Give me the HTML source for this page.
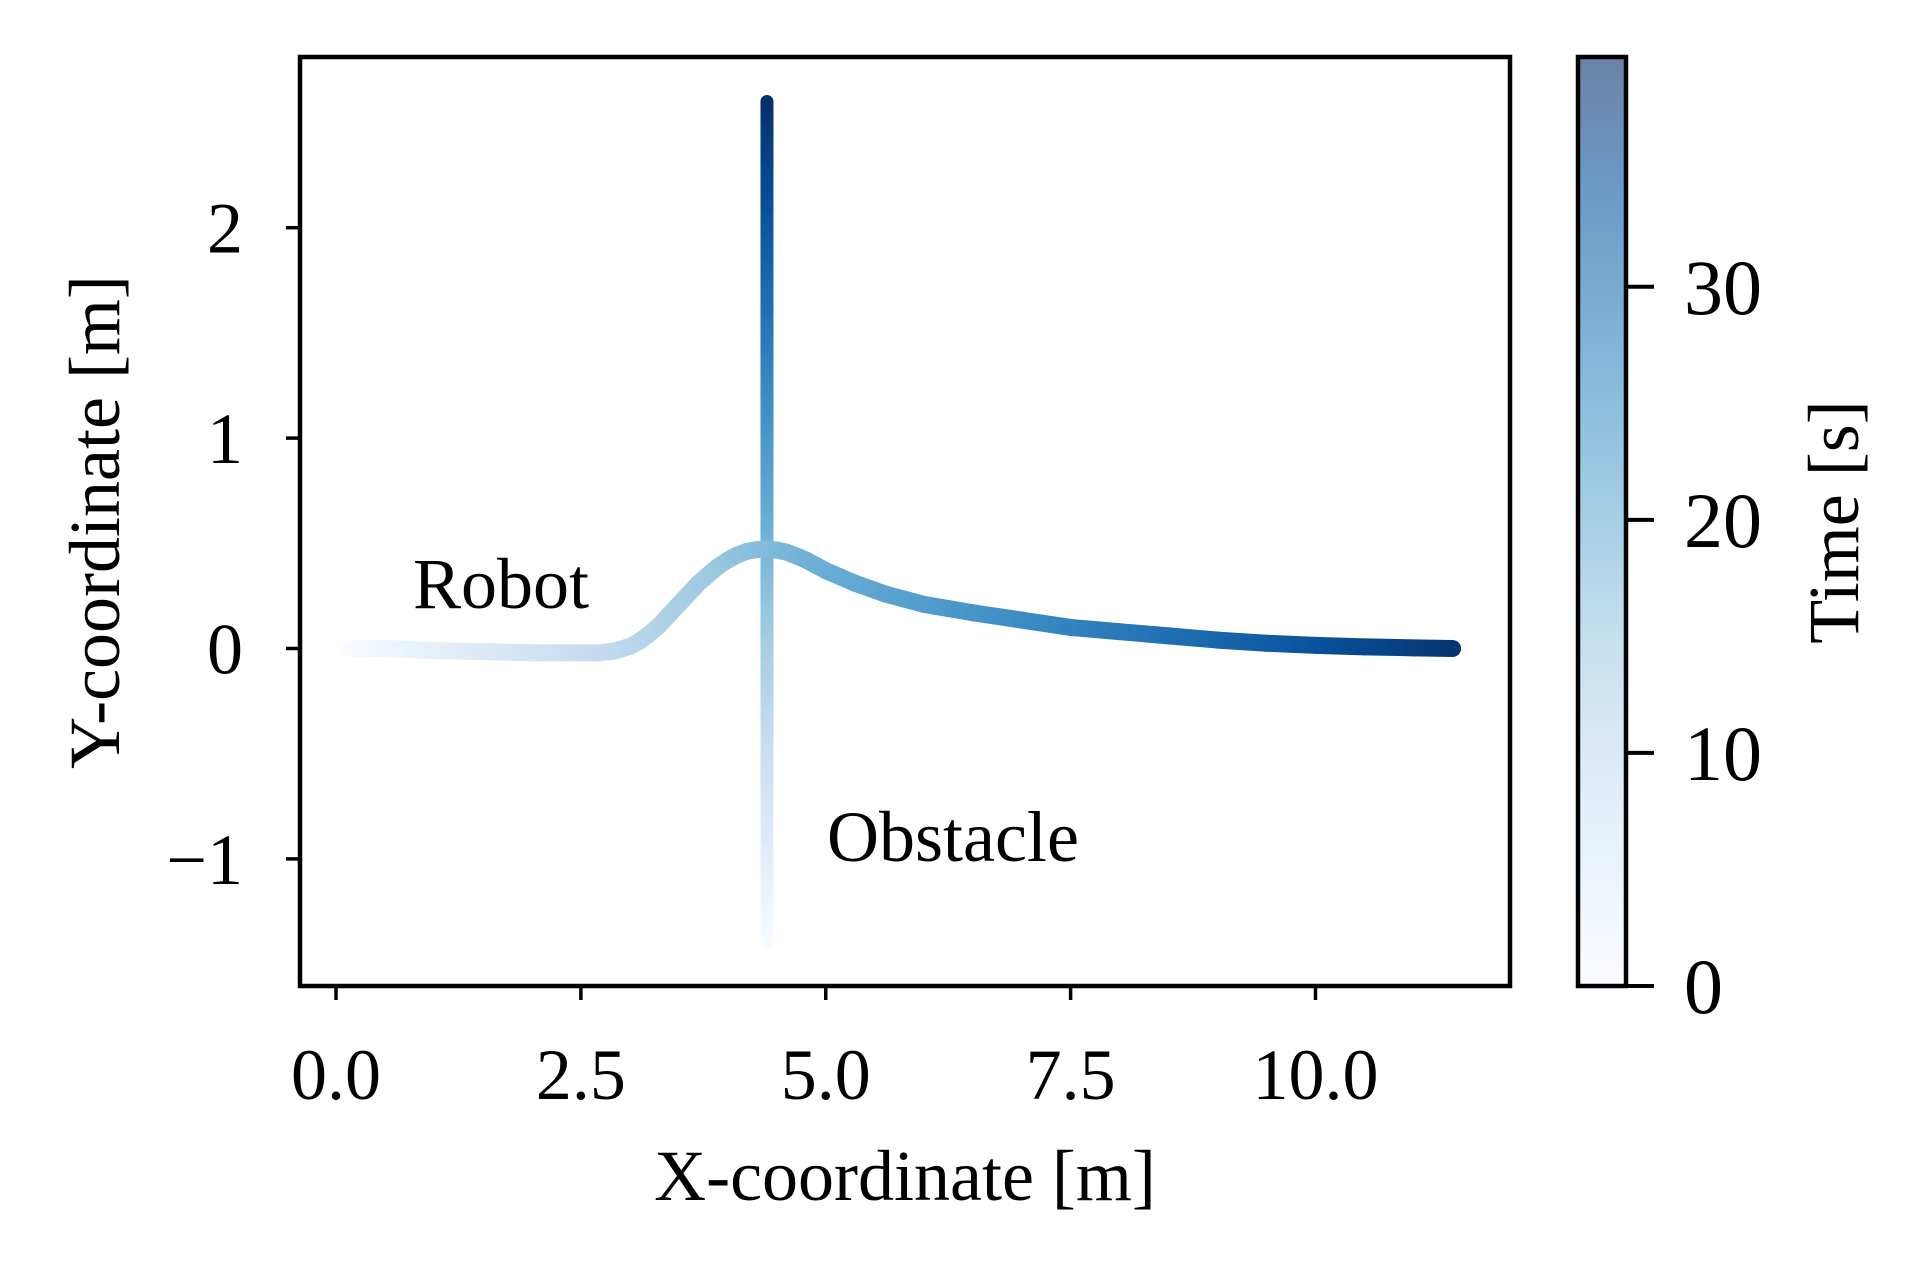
<!DOCTYPE html>
<html><head><meta charset="utf-8"><style>
html,body{margin:0;padding:0;background:#fff;}
svg{display:block;font-family:"Liberation Serif","DejaVu Serif",serif;}
</style></head><body>
<svg id="chart" width="1929" height="1276" viewBox="0 0 1929 1276">
<defs id="defs"></defs>
<g id="marks"></g>
<rect x="300" y="57" width="1210" height="929" fill="none" stroke="#000" stroke-width="4.5"/>
<g id="axes"></g>
<text x="413" y="608" font-size="72">Robot</text>
<text x="827" y="861" font-size="72">Obstacle</text>
<text x="905" y="1200" font-size="72" text-anchor="middle">X-coordinate [m]</text>
<text transform="translate(119,522) rotate(-90)" font-size="72" text-anchor="middle">Y-coordinate [m]</text>
<g id="cbar"></g>
<text transform="translate(1858,522) rotate(-90)" font-size="72" text-anchor="middle">Time [s]</text>
</svg>
<script>
const robotX=[0.15,0.5,1.0,1.5,2.0,2.5,2.7,2.85,3.0,3.1,3.2,3.3,3.4,3.5,3.6,3.7,3.8,3.9,4.0,4.1,4.2,4.3,4.4,4.5,4.6,4.7,4.8,4.9,5.0,5.15,5.3,5.45,5.6,5.8,6.0,6.25,6.5,7.0,7.5,8.0,8.5,9.0,9.5,10.0,10.5,11.0,11.4];
const robotY=[0,0,-0.01,-0.015,-0.02,-0.02,-0.02,-0.012,0.01,0.035,0.07,0.11,0.16,0.21,0.26,0.31,0.35,0.39,0.42,0.445,0.462,0.47,0.472,0.468,0.458,0.44,0.42,0.395,0.37,0.34,0.31,0.285,0.26,0.235,0.21,0.19,0.17,0.135,0.10,0.08,0.06,0.04,0.025,0.015,0.008,0.003,0];
const robotT=[0,1.5,3.5,5.5,7.5,9.5,10.3,10.9,11.5,11.9,12.3,12.75,13.2,13.65,14.1,14.55,15,15.45,15.9,16.35,16.8,17.25,17.7,18.15,18.6,19.0,19.4,19.75,20.1,20.55,21,21.45,21.9,22.45,23,23.7,24.4,25.8,27.3,28.7,30.2,31.7,33.2,34.7,36.3,37.9,39.3];
const obstacleX=[4.4,4.4,4.4,4.4,4.4,4.4,4.4,4.4,4.4];
const obstacleY=[-1.4,-0.9,-0.4,0.1,0.6,1.1,1.6,2.1,2.6];
const obstacleT=[0,5,10,15,20,25,30,35,39.9];
const xTicks=[0,2.5,5,7.5,10];
const xTickLabels=["0.0","2.5","5.0","7.5","10.0"];
const yTicks=[-1,0,1,2];
const yTickLabels=["\u22121","0","1","2"];
const cTicks=[0,10,20,30];
const cTickLabels=["0","10","20","30"];
const tMax=39.9;

const NS="http://www.w3.org/2000/svg";
const sx=v=>336+v*97.95;
const sy=v=>648.5-v*210.4;
const sc=v=>986-v*(930/tMax);
const stops=[[247,251,255],[222,235,247],[198,219,239],[158,202,225],[107,174,214],[66,146,198],[33,113,181],[8,81,156],[8,48,107]];
function blues(f){f=Math.max(0,Math.min(1,f));const p=f*8,i=Math.min(7,Math.floor(p)),r=p-i;
 const c=stops[i].map((a,k)=>Math.round(a+(stops[i+1][k]-a)*r));return `rgb(${c[0]},${c[1]},${c[2]})`;}
function el(tag,attrs,parent){const e=document.createElementNS(NS,tag);for(const k in attrs)e.setAttribute(k,attrs[k]);parent.appendChild(e);return e;}
const defs=document.getElementById('defs'),marks=document.getElementById('marks'),axes=document.getElementById('axes'),cbar=document.getElementById('cbar');
let gid=0;
function drawPath(X,Y,T,w,name){
 for(let i=0;i<X.length-1;i++){
  const x1=sx(X[i]),y1=sy(Y[i]),x2=sx(X[i+1]),y2=sy(Y[i+1]);
  const id='g'+(gid++);
  const g=el('linearGradient',{id:id,gradientUnits:'userSpaceOnUse',x1:x1,y1:y1,x2:x2,y2:y2},defs);
  el('stop',{offset:'0','stop-color':blues(T[i]/tMax)},g);
  el('stop',{offset:'1','stop-color':blues(T[i+1]/tMax)},g);
  const l=el('line',{x1:x1,y1:y1,x2:x2,y2:y2,stroke:`url(#${id})`,'stroke-width':w,'stroke-linecap':'round'},marks);
  
  
 }
}
drawPath(obstacleX,obstacleY,obstacleT,13,'obstacle-path');
drawPath(robotX,robotY,robotT,17,'robot-path');

xTicks.forEach((v,i)=>{
 const t=el('line',{x1:sx(v),x2:sx(v),y1:986,y2:1000,stroke:'#000','stroke-width':3.5},axes);
 
 
 const tx=el('text',{x:sx(v),y:1099,'font-size':72,'text-anchor':'middle'},axes);tx.textContent=xTickLabels[i];
 
 
});
yTicks.forEach((v,i)=>{
 const t=el('line',{x1:286,x2:300,y1:sy(v),y2:sy(v),stroke:'#000','stroke-width':3.5},axes);
 
 
 const tx=el('text',{x:243,y:sy(v)+25,'font-size':72,'text-anchor':'end'},axes);tx.textContent=yTickLabels[i];
 
 
});
const cg=el('linearGradient',{id:'cbg',x1:0,y1:1,x2:0,y2:0},defs);
for(let k=0;k<=8;k++)el('stop',{offset:k/8,'stop-color':blues(k/8)},cg);
const cr=el('rect',{x:1578,y:57,width:48,height:929,fill:'url(#cbg)','fill-opacity':0.6,stroke:'#000','stroke-width':4.5},cbar);


cTicks.forEach((v,i)=>{
 const t=el('line',{x1:1626,x2:1654,y1:sc(v),y2:sc(v),stroke:'#000','stroke-width':4},cbar);
 
 
 const tx=el('text',{x:1684,y:sc(v)+27,'font-size':78},cbar);tx.textContent=cTickLabels[i];
 
 
});
</script>
</body></html>
